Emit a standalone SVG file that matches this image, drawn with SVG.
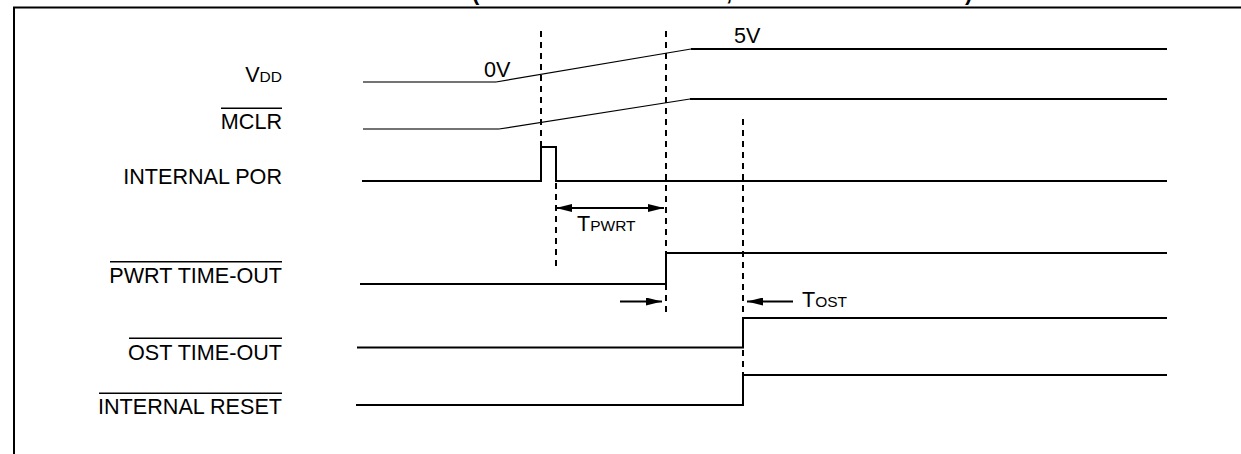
<svg xmlns="http://www.w3.org/2000/svg" width="1241" height="454" viewBox="0 0 1241 454">
<style>
  .lbl { font-family: "Liberation Sans", Arial, sans-serif; font-size: 21.6px; fill: #000; }
  .sc { font-size: 15.5px; }
  .ttl { font-family: "Liberation Sans", Arial, sans-serif; font-size: 22px; font-weight: bold; fill: #000; }
  .sig { fill: none; stroke: #000; stroke-width: 2; }
  .low { fill: none; stroke: #444; stroke-width: 1.5; }
  .ramp { fill: none; stroke: #000; stroke-width: 1.2; }
  .dash { fill: none; stroke: #000; stroke-width: 2; stroke-dasharray: 6 5; }
  .ovl { stroke: #000; stroke-width: 1.5; }
  .arr { fill: none; stroke: #000; stroke-width: 2; }
  .frame { fill: none; stroke: #000; stroke-width: 2; }
</style>
<defs>
  <marker id="ah" viewBox="0 0 16 8" refX="16" refY="4" markerWidth="16" markerHeight="8" markerUnits="userSpaceOnUse" orient="auto-start-reverse">
    <path d="M0,0 L16,4 L0,8 Z" fill="#000"/>
  </marker>
</defs>
<rect width="1241" height="454" fill="#fff"/>

<g id="frame">
  <path class="frame" d="M14,454 L14,7.5 L1241,7.5"/>
  <text class="ttl" y="-0.5"><tspan x="472">(</tspan><tspan x="726">,</tspan><tspan x="965">)</tspan></text>
</g>

<g id="vdd">
  <text class="lbl" x="282" y="82" text-anchor="end">V<tspan class="sc">DD</tspan></text>
  <text class="lbl" x="484" y="77">0V</text>
  <text class="lbl" x="734" y="43">5V</text>
  <path class="low" d="M363,82 L496,82"/>
  <path class="ramp" d="M496,82 L691,49"/>
  <path class="sig" d="M691,49 L1167,49"/>
</g>

<g id="mclr">
  <text class="lbl" x="282" y="129" text-anchor="end">MCLR</text>
  <line class="ovl" x1="221" y1="108.3" x2="282" y2="108.3"/>
  <path class="low" d="M363,129 L499,129"/>
  <path class="ramp" d="M499,129 L690,99"/>
  <path class="sig" d="M690,99 L1167,99"/>
</g>

<g id="internal-por">
  <text class="lbl" x="282" y="183.5" text-anchor="end">INTERNAL POR</text>
  <path class="sig" d="M362,181 L541,181 L541,147 L556,147 L556,181 L1167,181"/>
</g>

<g id="pwrt-timeout">
  <text class="lbl" x="282" y="282.5" text-anchor="end">PWRT TIME-OUT</text>
  <line class="ovl" x1="110" y1="261.7" x2="282" y2="261.7"/>
  <path class="sig" d="M360,284 L666,284 L666,253 L1167,253"/>
</g>

<g id="ost-timeout">
  <text class="lbl" x="282" y="359.5" text-anchor="end">OST TIME-OUT</text>
  <line class="ovl" x1="129" y1="338.3" x2="282" y2="338.3"/>
  <path class="sig" d="M357,347.5 L743,347.5 L743,318 L1167,318"/>
</g>

<g id="internal-reset">
  <text class="lbl" x="282" y="413.5" text-anchor="end">INTERNAL RESET</text>
  <line class="ovl" x1="99" y1="393.3" x2="282" y2="393.3"/>
  <path class="sig" d="M356,405 L743,405 L743,375 L1167,375"/>
</g>

<g id="tpwrt">
  <text class="lbl" x="577" y="231">T<tspan class="sc">PWRT</tspan></text>
</g>

<g id="tost">
  <text class="lbl" x="802" y="307">T<tspan class="sc">OST</tspan></text>
</g>

<g id="connectors">
  <path class="dash" d="M541,31 L541,147"/>
  <path class="dash" d="M556,183 L556,268"/>
  <path class="dash" d="M666,31 L666,316"/>
  <path class="dash" d="M743,119 L743,405"/>
  <path class="arr" d="M556,208 L664,208" marker-start="url(#ah)" marker-end="url(#ah)"/>
  <path class="arr" d="M620,301.5 L662,301.5" marker-end="url(#ah)"/>
  <path class="arr" d="M793,301.5 L747,301.5" marker-end="url(#ah)"/>
</g>
</svg>
